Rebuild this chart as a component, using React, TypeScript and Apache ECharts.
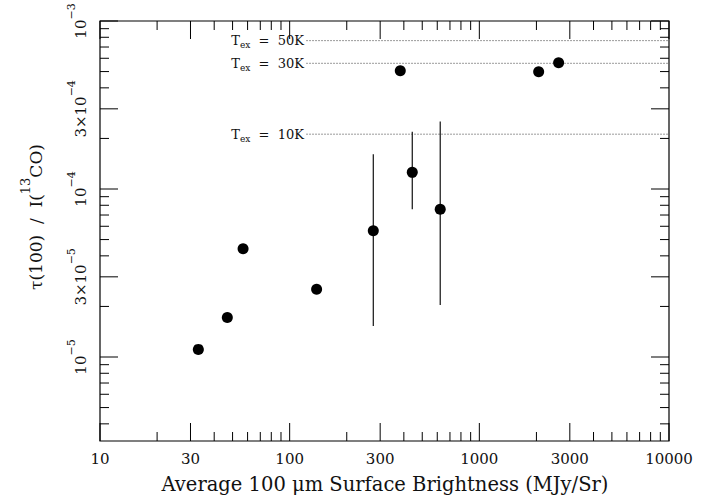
import React, { useEffect, useRef } from "react";
import * as echarts from "echarts";

// ---- data ----
const brightness = [33.0, 46.9, 56.8, 138.7, 276, 383, 443, 622, 2055, 2618];
const ratio = [1.11e-5, 1.72e-5, 4.41e-5, 2.53e-5, 5.65e-5, 5.06e-4, 1.256e-4, 7.57e-5, 4.99e-4, 5.65e-4];
const errX = [276, 443, 622];
const errLow = [1.53e-5, 7.57e-5, 2.04e-5];
const errHigh = [1.61e-4, 2.19e-4, 2.52e-4];
const texLabels = ["50K", "30K", "10K"];
const texValues = [7.64e-4, 5.6e-4, 2.12e-4];
const texStartX = 122;

const xMin = 10;
const xMax = 10000;
const yMin = Math.pow(10, -5.5);
const yMax = 1e-3;

const xMajorTicks = [10, 30, 100, 300, 1000, 3000, 10000];
const xMinorTicks = [20, 40, 50, 60, 70, 80, 90, 200, 400, 500, 600, 700, 800, 900, 2000, 4000, 5000, 6000, 7000, 8000, 9000];
const xTickLabels = ["10", "30", "100", "300", "1000", "3000", "10000"];

const yMajorTicks = [1e-5, 3e-5, 1e-4, 3e-4, 1e-3];
const yMinorTicks = [4e-6, 5e-6, 6e-6, 7e-6, 8e-6, 9e-6, 2e-5, 4e-5, 5e-5, 6e-5, 7e-5, 8e-5, 9e-5, 2e-4, 4e-4, 5e-4, 6e-4, 7e-4, 8e-4, 9e-4];
const yTickMantissa = ["", "3×", "", "3×", ""];
const yTickExponent = ["−5", "−5", "−4", "−4", "−3"];

const xTitle = "Average 100 μm Surface Brightness (MJy/Sr)";

const FONT = "DejaVu Serif";

export default function App() {
  const ref = useRef<HTMLDivElement>(null);
  useEffect(() => {
    if (!ref.current) return;
    const chart = echarts.init(ref.current, undefined, { renderer: "svg" });
    const MAJ = 18;
    const MIN = 9;

    const xTickData = [
      ...xMajorTicks.map((v) => [v, 1e-4, 1]),
      ...xMinorTicks.map((v) => [v, 1e-4, 0]),
    ];
    const yTickData = [
      ...yMajorTicks.map((v) => [100, v, 1]),
      ...yMinorTicks.map((v) => [100, v, 0]),
    ];

    const option: any = {
      animation: false,
      backgroundColor: "#fff",
      grid: {
        left: 100,
        top: 21,
        width: 569,
        height: 420,
        show: true,
        borderColor: "#000",
        borderWidth: 1.2,
        backgroundColor: "transparent",
      },
      xAxis: {
        type: "log",
        logBase: 10,
        min: xMin,
        max: xMax,
        axisLine: { show: false },
        axisTick: { show: false },
        axisLabel: { show: false },
        splitLine: { show: false },
      },
      yAxis: {
        type: "log",
        logBase: 10,
        min: yMin,
        max: yMax,
        axisLine: { show: false },
        axisTick: { show: false },
        axisLabel: { show: false },
        splitLine: { show: false },
      },
      graphic: [
        {
          type: "text",
          x: 385,
          y: 484,
          style: {
            text: xTitle,
            fill: "#111",
            fontFamily: FONT,
            fontSize: 19.5,
            align: "center",
            verticalAlign: "middle",
          },
        },
        {
          type: "text",
          x: 36,
          y: 217,
          rotation: Math.PI / 2,
          style: {
            text: "{n|τ(100)  /  I(}{s|13}{n|CO)}",
            fill: "#111",
            align: "center",
            verticalAlign: "middle",
            rich: {
              n: { fontFamily: FONT, fontSize: 17, lineHeight: 34, fill: "#111" },
              s: { fontFamily: FONT, fontSize: 13, lineHeight: 12, verticalAlign: "top", fill: "#111" },
            },
          },
        },
      ],
      series: [
        {
          type: "custom",
          name: "xticks",
          silent: true,
          data: xTickData,
          renderItem: (params: any, api: any) => {
            const cs = params.coordSys;
            const x = api.coord([api.value(0), 1e-4])[0];
            const len = api.value(2) ? MAJ : MIN;
            const bottom = cs.y + cs.height;
            const top = cs.y;
            return {
              type: "group",
              children: [
                { type: "line", shape: { x1: x, y1: bottom, x2: x, y2: bottom - len }, style: { stroke: "#000", lineWidth: 1 } },
                { type: "line", shape: { x1: x, y1: top, x2: x, y2: top + len }, style: { stroke: "#000", lineWidth: 1 } },
              ],
            };
          },
        },
        {
          type: "custom",
          name: "yticks",
          silent: true,
          data: yTickData,
          renderItem: (params: any, api: any) => {
            const cs = params.coordSys;
            const y = api.coord([100, api.value(1)])[1];
            const len = api.value(2) ? MAJ : MIN;
            const left = cs.x;
            const right = cs.x + cs.width;
            return {
              type: "group",
              children: [
                { type: "line", shape: { x1: left, y1: y, x2: left + len, y2: y }, style: { stroke: "#000", lineWidth: 1 } },
                { type: "line", shape: { x1: right, y1: y, x2: right - len, y2: y }, style: { stroke: "#000", lineWidth: 1 } },
              ],
            };
          },
        },
        {
          type: "custom",
          name: "xlabels",
          silent: true,
          data: xMajorTicks.map((v, i) => [v, 1e-4, i]),
          renderItem: (params: any, api: any) => {
            const cs = params.coordSys;
            const x = api.coord([api.value(0), 1e-4])[0];
            return {
              type: "text",
              x: x,
              y: cs.y + cs.height + 18,
              style: {
                text: xTickLabels[api.value(2)],
                fill: "#111",
                fontFamily: FONT,
                fontSize: 15,
                align: "center",
                verticalAlign: "middle",
              },
            };
          },
        },
        {
          type: "custom",
          name: "ylabels",
          silent: true,
          data: yMajorTicks.map((v, i) => [100, v, i]),
          renderItem: (params: any, api: any) => {
            const cs = params.coordSys;
            const y = api.coord([100, api.value(1)])[1];
            const i = api.value(2);
            return {
              type: "text",
              x: cs.x - 19,
              y: y,
              rotation: Math.PI / 2,
              style: {
                text: `{n|${yTickMantissa[i]}10}{s|${yTickExponent[i]}}`,
                fill: "#111",
                align: "center",
                verticalAlign: "middle",
                rich: {
                  n: { fontFamily: FONT, fontSize: 15, lineHeight: 30, fill: "#111" },
                  s: { fontFamily: FONT, fontSize: 11, lineHeight: 10, verticalAlign: "top", fill: "#111" },
                },
              },
            };
          },
        },
        {
          type: "custom",
          name: "tex",
          silent: true,
          data: texValues.map((v, i) => [texStartX, v, i]),
          renderItem: (params: any, api: any) => {
            const cs = params.coordSys;
            const p = api.coord([api.value(0), api.value(1)]);
            const i = api.value(2);
            return {
              type: "group",
              children: [
                {
                  type: "line",
                  shape: { x1: p[0], y1: p[1], x2: cs.x + cs.width, y2: p[1] },
                  style: { stroke: "#999", lineWidth: 1, lineDash: [2, 1] },
                },
                {
                  type: "text",
                  x: p[0] - 2,
                  y: p[1],
                  style: {
                    text: `{t|T}{s|ex}{t|  =  ${texLabels[i]}}`,
                    fill: "#111",
                    align: "right",
                    verticalAlign: "middle",
                    rich: {
                      t: { fontFamily: FONT, fontSize: 13, lineHeight: 18, fill: "#111" },
                      s: { fontFamily: FONT, fontSize: 9, lineHeight: 10, verticalAlign: "bottom", fill: "#111" },
                    },
                  },
                },
              ],
            };
          },
        },
        {
          type: "custom",
          name: "errorbars",
          silent: true,
          data: errX.map((x, i) => [x, errLow[i], errHigh[i]]),
          renderItem: (params: any, api: any) => {
            const lo = api.coord([api.value(0), api.value(1)]);
            const hi = api.coord([api.value(0), api.value(2)]);
            return {
              type: "line",
              shape: { x1: lo[0], y1: lo[1], x2: hi[0], y2: hi[1] },
              style: { stroke: "#111", lineWidth: 1.2 },
            };
          },
        },
        {
          type: "scatter",
          name: "points",
          symbol: "circle",
          symbolSize: 11,
          itemStyle: { color: "#000", opacity: 1 },
          data: brightness.map((x, i) => [x, ratio[i]]),
          z: 10,
        },
      ],
    };
    chart.setOption(option);
    return () => chart.dispose();
  }, []);
  return (
    <div
      ref={ref}
      style={{ position: "fixed", left: 0, top: 0, width: 712, height: 499, background: "#fff" }}
    />
  );
}
